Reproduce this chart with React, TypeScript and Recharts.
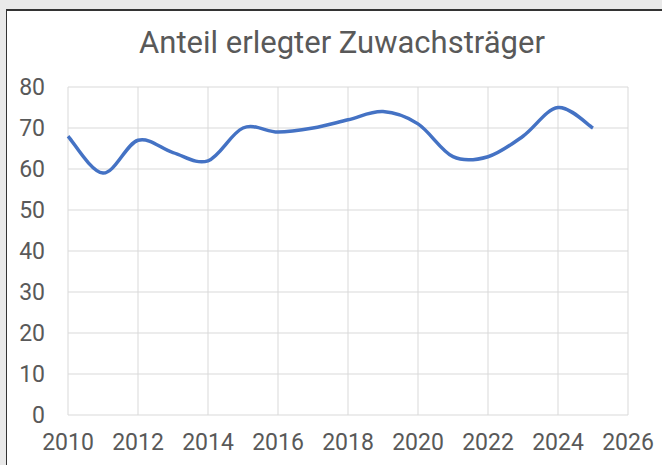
import React from 'react';
import { LineChart, Line, XAxis, YAxis, CartesianGrid } from 'recharts';

const years = [2010, 2011, 2012, 2013, 2014, 2015, 2016, 2017, 2018, 2019, 2020, 2021, 2022, 2023, 2024, 2025];
const shares = [68, 59, 67, 64, 62, 70, 69, 70, 72, 74, 71, 63, 63, 68, 75, 70];
const xTicks = [2010, 2012, 2014, 2016, 2018, 2020, 2022, 2024, 2026];
const yTicks = [0, 10, 20, 30, 40, 50, 60, 70, 80];

const chartData = years.map((year, i) => ({ year, share: shares[i] }));

// Excel-like smoothing (Catmull-Rom through every point)
const smoothCurve = (context: any) => {
    let pts: number[][] = [];
    return {
        areaStart() {},
        areaEnd() {},
        lineStart() {
            pts = [];
        },
        point(x: number, y: number) {
            pts.push([+x, +y]);
        },
        lineEnd() {
            if (!pts.length) return;
            context.moveTo(pts[0][0], pts[0][1]);
            for (let i = 0; i < pts.length - 1; i++) {
                const p0 = pts[i - 1] || pts[i];
                const p1 = pts[i];
                const p2 = pts[i + 1];
                const p3 = pts[i + 2] || p2;
                context.bezierCurveTo(
                    p1[0] + (p2[0] - p0[0]) / 6,
                    p1[1] + (p2[1] - p0[1]) / 6,
                    p2[0] - (p3[0] - p1[0]) / 6,
                    p2[1] - (p3[1] - p1[1]) / 6,
                    p2[0],
                    p2[1],
                );
            }
        },
    };
};

const font = 'Roboto, "Noto Sans", sans-serif';
const tickStyle = { fill: '#595959', fontSize: 23, fontFamily: font };

const App: React.FC = () => {
    return (
        <div style={{ position: 'fixed', left: 0, top: 0, width: 662, height: 465, background: '#e9e9e9', overflow: 'hidden' }}>
            <div
                style={{
                    position: 'absolute',
                    left: 6,
                    top: 9,
                    right: 0,
                    bottom: 0,
                    background: '#fff',
                    borderLeft: '1.5px solid #333',
                    borderTop: '2px solid #333',
                }}
            />
            <div
                style={{
                    position: 'absolute',
                    left: 0,
                    width: 684,
                    top: 23,
                    textAlign: 'center',
                    fontFamily: font,
                    fontSize: 31,
                    color: '#595959',
                    lineHeight: '40px',
                }}
            >
                Anteil erlegter Zuwachsträger
            </div>
            <div style={{ position: 'absolute', left: 0, top: 0 }}>
                <LineChart width={662} height={465} data={chartData} margin={{ top: 87, right: 34, left: 8, bottom: 0 }}>
                    <CartesianGrid stroke="#d9d9d9" strokeWidth={1} />
                    <XAxis
                        dataKey="year"
                        type="number"
                        domain={[2010, 2026]}
                        ticks={xTicks}
                        axisLine={false}
                        tickLine={false}
                        tickSize={0}
                        tickMargin={19}
                        height={50}
                        tick={tickStyle}
                        interval={0}
                    />
                    <YAxis
                        domain={[0, 80]}
                        ticks={yTicks}
                        axisLine={false}
                        tickLine={false}
                        tickSize={0}
                        tickMargin={23}
                        width={60}
                        tick={tickStyle}
                        interval={0}
                    />
                    <Line
                        dataKey="share"
                        type={smoothCurve as any}
                        stroke="#4472c4"
                        strokeWidth={3.5}
                        dot={false}
                        activeDot={false}
                        isAnimationActive={false}
                    />
                </LineChart>
            </div>
        </div>
    );
};

export default App;
